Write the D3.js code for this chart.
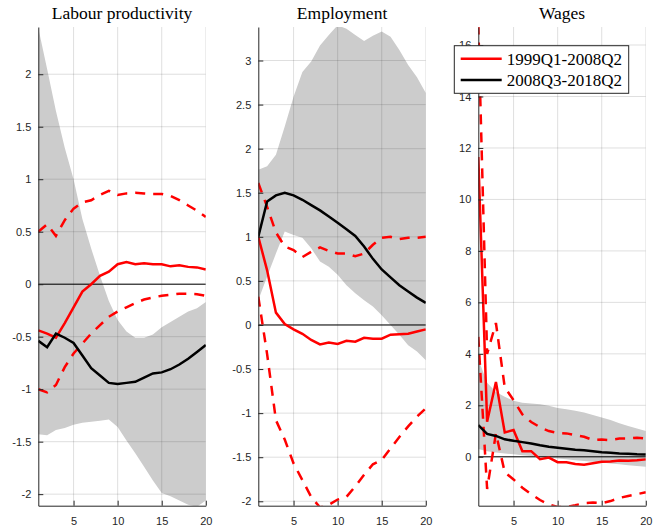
<!DOCTYPE html>
<html>
<head>
<meta charset="utf-8">
<script src="https://cdn.jsdelivr.net/npm/d3@7"></script>
<style>
  body { margin: 0; background: #fff; }
  svg { display: block; }
</style>
</head>
<body>
<div id="chart"></div>
<script>
// horizon in quarters
const quarters = d3.range(1, 21);
const titles = ["Labour productivity", "Employment", "Wages"];
const legendLabels = ["1999Q1-2008Q2", "2008Q3-2018Q2"];
const xTicks = [5, 10, 15, 20];

// Labour productivity
const lpDomain = [-2.11, 2.45];
const lpTicks = [-2, -1.5, -1, -0.5, 0, 0.5, 1, 1.5, 2];
const lpBandHi = [2.44, 2.05, 1.65, 1.3, 1.0, 0.62, 0.34, 0.08, -0.16, -0.34, -0.45, -0.51, -0.51, -0.48, -0.41, -0.36, -0.31, -0.26, -0.23, -0.17];
const lpBandLo = [-1.43, -1.44, -1.39, -1.37, -1.34, -1.32, -1.31, -1.30, -1.29, -1.36, -1.49, -1.61, -1.74, -1.87, -1.99, -2.02, -2.06, -2.10, -2.12, -2.06];
const lpRed = [-0.44, -0.47, -0.51, -0.37, -0.22, -0.07, 0.0, 0.08, 0.12, 0.19, 0.21, 0.19, 0.2, 0.19, 0.19, 0.17, 0.18, 0.165, 0.16, 0.14];
const lpRedHi = [0.5, 0.57, 0.46, 0.61, 0.72, 0.78, 0.8, 0.85, 0.89, 0.85, 0.865, 0.87, 0.865, 0.86, 0.86, 0.84, 0.8, 0.75, 0.7, 0.64];
const lpRedLo = [-1.0, -1.03, -0.96, -0.79, -0.66, -0.565, -0.47, -0.39, -0.31, -0.26, -0.22, -0.18, -0.146, -0.127, -0.11, -0.1, -0.09, -0.09, -0.095, -0.11];
const lpBlack = [-0.54, -0.60, -0.47, -0.51, -0.56, -0.68, -0.80, -0.87, -0.94, -0.95, -0.94, -0.93, -0.89, -0.85, -0.84, -0.81, -0.765, -0.71, -0.645, -0.58];

// Employment
const empDomain = [-2.05, 3.38];
const empTicks = [-2, -1.5, -1, -0.5, 0, 0.5, 1, 1.5, 2, 2.5, 3];
const empBandHi = [1.76, 1.80, 1.93, 2.25, 2.59, 2.87, 2.99, 3.17, 3.29, 3.40, 3.36, 3.29, 3.22, 3.28, 3.33, 3.27, 3.12, 2.95, 2.81, 2.63];
const empBandLo = [0.28, 0.55, 0.81, 1.06, 1.02, 0.99, 0.87, 0.72, 0.66, 0.57, 0.45, 0.36, 0.28, 0.21, 0.11, 0.0, -0.11, -0.23, -0.30, -0.40];
const empRed = [1.0, 0.62, 0.14, 0.01, -0.05, -0.10, -0.17, -0.22, -0.20, -0.215, -0.18, -0.19, -0.145, -0.155, -0.155, -0.11, -0.105, -0.10, -0.075, -0.05];
const empRedHi = [1.61, 1.34, 1.05, 0.89, 0.85, 0.77, 0.83, 0.88, 0.84, 0.81, 0.81, 0.78, 0.81, 0.91, 0.99, 1.0, 0.975, 0.99, 0.99, 1.0];
const empRedLo = [0.32, -0.33, -1.08, -1.30, -1.57, -1.76, -1.95, -2.07, -2.04, -1.98, -1.95, -1.83, -1.70, -1.58, -1.53, -1.40, -1.27, -1.15, -1.04, -0.945];
const empBlack = [1.0, 1.40, 1.47, 1.50, 1.47, 1.42, 1.36, 1.30, 1.23, 1.16, 1.085, 1.01, 0.89, 0.75, 0.63, 0.54, 0.45, 0.38, 0.31, 0.25];

// Wages
const wDomain = [-1.9, 16.7];
const wTicks = [0, 2, 4, 6, 8, 10, 12, 14, 16];
const wBandHi = [3.8, 2.88, 2.52, 2.33, 2.18, 2.1, 2.07, 2.04, 1.98, 1.90, 1.85, 1.79, 1.72, 1.62, 1.53, 1.43, 1.30, 1.20, 1.10, 1.0];
const wBandLo = [0.3, 0.22, 0.17, 0.13, 0.1, 0.06, 0.03, 0.0, -0.03, -0.07, -0.1, -0.13, -0.16, -0.19, -0.22, -0.26, -0.29, -0.33, -0.36, -0.39];
const wRed = [11.65, 1.36, 2.91, 0.95, 1.04, 0.22, 0.22, -0.09, -0.03, -0.21, -0.21, -0.28, -0.31, -0.25, -0.19, -0.18, -0.14, -0.15, -0.13, -0.10];
const wRedHi = [16.8, 4.0, 5.2, 2.7, 2.2, 1.65, 1.35, 1.15, 1.0, 0.93, 0.91, 0.84, 0.78, 0.65, 0.67, 0.65, 0.71, 0.71, 0.74, 0.71];
const wRedLo = [4.66, -1.25, 0.91, -0.6, -0.88, -1.2, -1.45, -1.68, -1.85, -1.95, -1.95, -1.88, -1.8, -1.78, -1.8, -1.72, -1.6, -1.52, -1.45, -1.38];
const wBlack = [1.23, 0.89, 0.81, 0.68, 0.62, 0.57, 0.52, 0.45, 0.39, 0.35, 0.31, 0.27, 0.25, 0.22, 0.18, 0.16, 0.13, 0.12, 0.10, 0.09];

const panels = [
  {title: titles[0], domain: lpDomain, ticks: lpTicks, hi: lpBandHi, lo: lpBandLo, red: lpRed, redHi: lpRedHi, redLo: lpRedLo, black: lpBlack},
  {title: titles[1], domain: empDomain, ticks: empTicks, hi: empBandHi, lo: empBandLo, red: empRed, redHi: empRedHi, redLo: empRedLo, black: empBlack},
  {title: titles[2], domain: wDomain, ticks: wTicks, hi: wBandHi, lo: wBandLo, red: wRed, redHi: wRedHi, redLo: wRedLo, black: wBlack}
];

const width = 665, height = 532;
const plotTop = 27, plotBottom = 505.7, plotW = 167.5;
const lefts = [38.3, 258.3, 478.3];
const axisColor = "#262626";
const sansFont = "'Liberation Sans', Arial, Helvetica, sans-serif";
const serifFont = "'Liberation Serif', 'Times New Roman', serif";
const lw = 2.5;

const svg = d3.select("#chart").append("svg")
  .attr("width", width)
  .attr("height", height);

panels.forEach((p, k) => {
  const x = d3.scaleLinear().domain([1, 20]).range([lefts[k], lefts[k] + plotW]);
  const y = d3.scaleLinear().domain(p.domain).range([plotBottom, plotTop]);

  const g = svg.append("g");
  const clipId = "clip" + k;
  g.append("clipPath").attr("id", clipId)
    .append("rect")
    .attr("x", lefts[k]).attr("y", plotTop)
    .attr("width", plotW).attr("height", plotBottom - plotTop);

  const plot = g.append("g").attr("clip-path", `url(#${clipId})`);

  // confidence band
  const area = d3.area()
    .x((d, i) => x(quarters[i]))
    .y0((d, i) => y(p.lo[i]))
    .y1((d, i) => y(p.hi[i]));
  plot.append("path")
    .datum(p.hi)
    .attr("d", area)
    .attr("fill", "#cccccc");

  // grid
  plot.selectAll(".hgrid").data(p.ticks).join("line")
    .attr("x1", lefts[k]).attr("x2", lefts[k] + plotW)
    .attr("y1", d => y(d)).attr("y2", d => y(d))
    .attr("stroke", axisColor).attr("stroke-opacity", 0.15).attr("stroke-width", 1);
  plot.selectAll(".vgrid").data(xTicks).join("line")
    .attr("x1", d => x(d)).attr("x2", d => x(d))
    .attr("y1", plotTop).attr("y2", plotBottom)
    .attr("stroke", axisColor).attr("stroke-opacity", 0.15).attr("stroke-width", 1);

  // zero line
  plot.append("line")
    .attr("x1", lefts[k]).attr("x2", lefts[k] + plotW)
    .attr("y1", y(0)).attr("y2", y(0))
    .attr("stroke", "#000").attr("stroke-width", 1);

  const line = d3.line()
    .x((d, i) => x(quarters[i]))
    .y(d => y(d));

  [p.redHi, p.redLo].forEach(s => {
    plot.append("path").datum(s)
      .attr("d", line)
      .attr("fill", "none")
      .attr("stroke", "#ff0000")
      .attr("stroke-width", lw)
      .attr("stroke-dasharray", "10,8");
  });
  plot.append("path").datum(p.red)
    .attr("d", line).attr("fill", "none")
    .attr("stroke", "#ff0000").attr("stroke-width", lw);
  plot.append("path").datum(p.black)
    .attr("d", line).attr("fill", "none")
    .attr("stroke", "#000").attr("stroke-width", lw);

  // axes
  const yAxis = g.append("g")
    .attr("transform", `translate(${lefts[k]},0)`)
    .call(d3.axisLeft(y).tickValues(p.ticks).tickFormat(d => String(d))
      .tickSizeInner(-5).tickSizeOuter(0).tickPadding(7));
  const xAxis = g.append("g")
    .attr("transform", `translate(0,${plotBottom})`)
    .call(d3.axisBottom(x).tickValues(xTicks).tickFormat(d => String(d))
      .tickSizeInner(-5).tickSizeOuter(0).tickPadding(11.5));
  [yAxis, xAxis].forEach(a => {
    a.attr("font-family", sansFont).attr("font-size", 11);
    a.select(".domain").attr("stroke", axisColor);
    a.selectAll(".tick line").attr("stroke", axisColor);
    a.selectAll(".tick text").attr("fill", axisColor);
  });

  g.append("text")
    .attr("x", lefts[k] + plotW / 2)
    .attr("y", 18.5)
    .attr("text-anchor", "middle")
    .attr("font-family", serifFont)
    .attr("font-size", 17.5)
    .attr("fill", "#000")
    .text(p.title);
});

// legend, placed in the wages panel
const lg = svg.append("g").attr("transform", `translate(${lefts[2] - 24},45.7)`);
lg.append("rect")
  .attr("width", 174.4).attr("height", 47.6)
  .attr("fill", "#fff").attr("stroke", axisColor).attr("stroke-width", 1);
const legendColors = ["#ff0000", "#000"];
legendLabels.forEach((lab, i) => {
  const cy = 13 + i * 21.3;
  lg.append("line")
    .attr("x1", 6.4).attr("x2", 47.4)
    .attr("y1", cy).attr("y2", cy)
    .attr("stroke", legendColors[i]).attr("stroke-width", lw);
  lg.append("text")
    .attr("x", 52.4).attr("y", cy + 6)
    .attr("font-family", serifFont).attr("font-size", 17)
    .attr("fill", "#000")
    .text(lab);
});
</script>
</body>
</html>
